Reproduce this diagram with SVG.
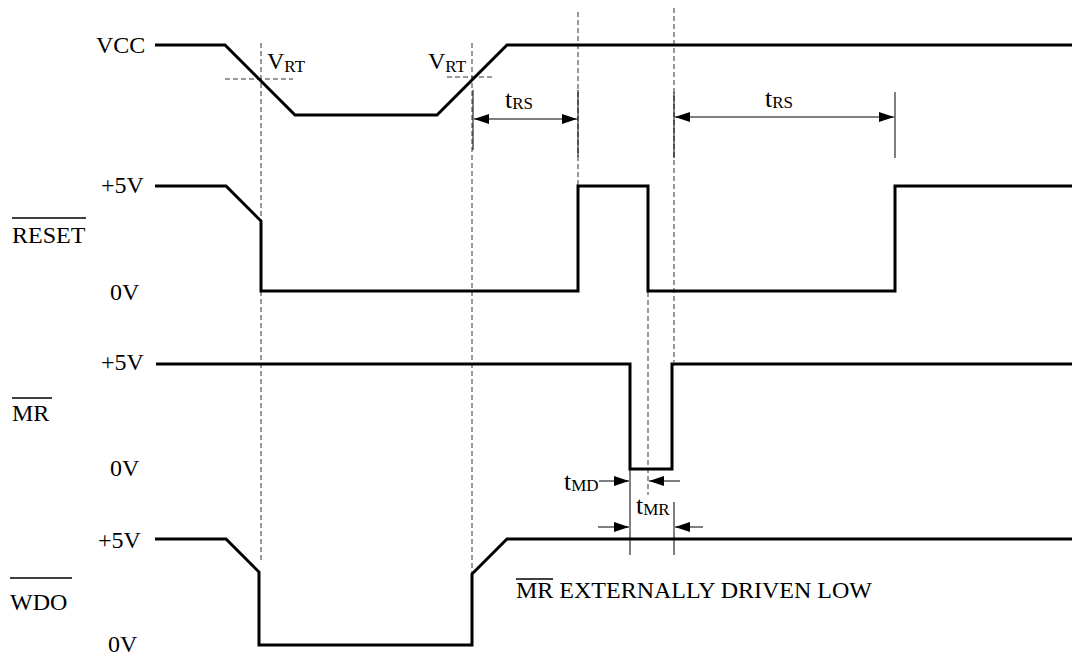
<svg xmlns="http://www.w3.org/2000/svg" width="1072" height="662" viewBox="0 0 1072 662">
<style>
  text { font-family: "Liberation Serif", "Times New Roman", serif; fill: #000; }
  .lbl { font-size: 24px; }
  .tl { font-size: 26px; }
  .sub { font-size: 17px; }
  .sig { fill: none; stroke: #000; stroke-width: 3; stroke-linejoin: miter; }
  .dash { fill: none; stroke: #333; stroke-width: 1; stroke-dasharray: 5 3; }
  .ext { fill: none; stroke: #000; stroke-width: 1; }
  .dim { fill: none; stroke: #000; stroke-width: 1; marker-end: url(#ah); }
  .ovl { stroke: #000; stroke-width: 1.5; }
</style>
<defs>
  <marker id="ah" markerUnits="userSpaceOnUse" markerWidth="16" markerHeight="10" refX="15" refY="5" orient="auto">
    <path d="M0,0 L15,5 L0,10 Z" fill="#000"/>
  </marker>
</defs>
<rect width="1072" height="662" fill="#fff"/>

<g id="guides">
  <line class="dash" x1="261" y1="43" x2="261" y2="563"/>
  <line class="dash" x1="472" y1="43" x2="472" y2="573"/>
  <line class="dash" x1="578" y1="12" x2="578" y2="186"/>
  <line class="dash" x1="674" y1="8" x2="674" y2="362"/>
  <line class="dash" x1="648" y1="292" x2="648" y2="495"/>
  <line class="dash" x1="225" y1="79" x2="293" y2="79"/>
  <line class="dash" x1="447" y1="77" x2="495" y2="77"/>
</g>

<g id="vcc">
  <text class="lbl" x="96" y="53">VCC</text>
  <path class="sig" d="M155,45 L225,45 L295,115 L437,115 L507,45 L1072,45"/>
  <text class="lbl" x="267" y="69">V<tspan class="sub" dy="3">RT</tspan></text>
  <text class="lbl" x="428" y="69">V<tspan class="sub" dy="3">RT</tspan></text>
</g>

<g id="reset">
  <text class="lbl" x="101" y="193">+5V</text>
  <text class="lbl" x="12" y="243">RESET</text>
  <line class="ovl" x1="12" y1="218" x2="86" y2="218"/>
  <text class="lbl" x="110" y="300">0V</text>
  <path class="sig" d="M155,186 L226,186 L261,221 L261,291 L578,291 L578,186 L648,186 L648,291 L895,291 L895,186 L1072,186"/>
</g>

<g id="mr">
  <text class="lbl" x="101" y="370">+5V</text>
  <text class="lbl" x="12" y="421">MR</text>
  <line class="ovl" x1="12" y1="398" x2="52" y2="398"/>
  <text class="lbl" x="110" y="476">0V</text>
  <path class="sig" d="M156,364 L630,364 L630,469 L672,469 L672,364 L1072,364"/>
</g>

<g id="wdo">
  <text class="lbl" x="98" y="548">+5V</text>
  <text class="lbl" x="10" y="610">WDO</text>
  <line class="ovl" x1="10" y1="578" x2="72" y2="578"/>
  <text class="lbl" x="108" y="652">0V</text>
  <path class="sig" d="M155,539 L226,539 L259,572 L259,645 L472,645 L472,574 L507,539 L1072,539"/>
  <text class="lbl" x="516" y="598">MR EXTERNALLY DRIVEN LOW</text>
  <line class="ovl" x1="516" y1="579" x2="553" y2="579"/>
</g>

<g id="connectors">
  <line class="ext" x1="473" y1="90" x2="473" y2="150"/>
  <line class="ext" x1="578" y1="90" x2="578" y2="157"/>
  <line class="ext" x1="674" y1="92" x2="674" y2="158"/>
  <line class="ext" x1="895" y1="92" x2="895" y2="158" stroke="#555"/>
  <line class="dim" x1="525" y1="119" x2="474" y2="119"/>
  <line class="dim" x1="525" y1="119" x2="577" y2="119"/>
  <line class="dim" x1="785" y1="117" x2="675" y2="117"/>
  <line class="dim" x1="785" y1="117" x2="894" y2="117"/>
  <line class="ext" x1="630" y1="469" x2="630" y2="555"/>
  <line class="ext" x1="674" y1="502" x2="674" y2="555"/>
  <line class="dim" x1="599" y1="481" x2="629" y2="481"/>
  <line class="dim" x1="680" y1="481" x2="649" y2="481"/>
  <line class="dim" x1="598" y1="527" x2="629" y2="527"/>
  <line class="dim" x1="703" y1="527" x2="675" y2="527"/>
</g>

<g id="timing-labels">
  <text class="tl" x="505" y="108">t<tspan class="sub" dy="1">RS</tspan></text>
  <text class="tl" x="765" y="107">t<tspan class="sub" dy="1">RS</tspan></text>
  <text class="tl" x="564" y="490">t<tspan class="sub" dy="1">MD</tspan></text>
  <text class="tl" x="636" y="514">t<tspan class="sub" dy="1">MR</tspan></text>
</g>
</svg>
